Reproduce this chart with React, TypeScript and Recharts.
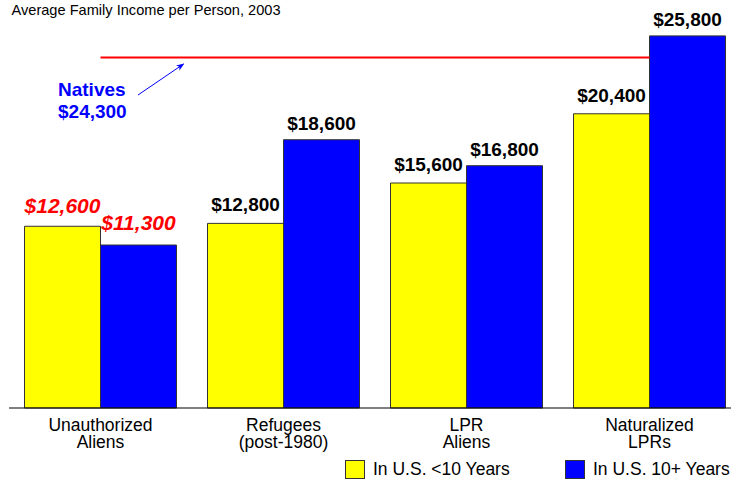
import React from "react";
import {
  BarChart,
  Bar,
  XAxis,
  YAxis,
  ReferenceLine,
  LabelList,
  Legend,
} from "recharts";

const categories = [
  "Unauthorized\nAliens",
  "Refugees\n(post-1980)",
  "LPR\nAliens",
  "Naturalized\nLPRs",
];
const under10Years = [12600, 12800, 15600, 20400];
const over10Years = [11300, 18600, 16800, 25800];
const nativesValue = 24300;
const seriesNames = ["In U.S. <10 Years", "In U.S. 10+ Years"];
const title = "Average Family Income per Person, 2003";

const YELLOW = "#FFFF00";
const BLUE = "#0000FF";
const RED = "#FF0000";
const FONT = "'Liberation Sans', Arial, sans-serif";

const data = categories.map((c, i) => ({
  category: c,
  under10: under10Years[i],
  over10: over10Years[i],
}));

const fmt = (v: number) =>
  "$" + String(v).replace(/\B(?=(\d{3})+(?!\d))/g, ",");

const CategoryTick = (props: any) => {
  const { x, y, payload } = props;
  const lines = String(payload.value).split("\n");
  return (
    <text
      x={x}
      y={y}
      textAnchor="middle"
      fontFamily={FONT}
      fontSize={17.5}
      fill="#000"
    >
      {lines.map((l, i) => (
        <tspan key={i} x={x} dy={i === 0 ? 14.5 : 17.5}>
          {l}
        </tspan>
      ))}
    </text>
  );
};

const makeValueLabel = (offsetRed: number, offsetBlack: number) => (props: any) => {
  const { x, y, width, value, index } = props;
  const special = index === 0;
  const cx = Number(x) + Number(width) / 2;
  return (
    <text
      x={cx}
      y={Number(y) - (special ? offsetRed : offsetBlack)}
      textAnchor="middle"
      fontFamily={FONT}
      fontWeight="bold"
      fontStyle={special ? "italic" : "normal"}
      fontSize={special ? 21 : 19}
      fill={special ? RED : "#000"}
    >
      {fmt(Number(value))}
    </text>
  );
};

const NativesLabel = (props: any) => {
  const vb = props.viewBox || {};
  const x0 = Number(vb.x);
  const y0 = Number(vb.y);
  const tx = x0 - 42.5;
  return (
    <g>
      <defs>
        <marker
          id="arrowHead"
          markerWidth="8"
          markerHeight="8"
          refX="7"
          refY="4"
          orient="auto"
          markerUnits="userSpaceOnUse"
        >
          <path d="M0,1 L8,4 L0,7 L2,4 Z" fill={BLUE} />
        </marker>
      </defs>
      <line
        x1={x0 + 37.5}
        y1={y0 + 37.5}
        x2={x0 + 83}
        y2={y0 + 6.5}
        stroke={BLUE}
        strokeWidth={1}
        markerEnd="url(#arrowHead)"
      />
      <text
        x={tx}
        y={y0 + 38.5}
        fontFamily={FONT}
        fontWeight="bold"
        fontSize={19}
        fill={BLUE}
      >
        Natives
      </text>
      <text
        x={tx}
        y={y0 + 60.5}
        fontFamily={FONT}
        fontWeight="bold"
        fontSize={19}
        fill={BLUE}
      >
        {fmt(nativesValue)}
      </text>
    </g>
  );
};

const LegendContent = () => {
  const items = [
    { name: seriesNames[0], color: YELLOW, left: 345 },
    { name: seriesNames[1], color: BLUE, left: 565 },
  ];
  return (
    <div style={{ position: "relative", width: 760, height: 30 }}>
      {items.map((it) => (
        <div
          key={it.name}
          style={{
            position: "absolute",
            left: it.left,
            top: 10,
            display: "flex",
            alignItems: "center",
            fontFamily: FONT,
            fontSize: 17.5,
            color: "#000",
            whiteSpace: "nowrap",
          }}
        >
          <span
            style={{
              display: "inline-block",
              width: 18,
              height: 17,
              background: it.color,
              border: "1px solid #333",
              marginRight: 8,
            }}
          />
          <span>{it.name}</span>
        </div>
      ))}
    </div>
  );
};

export default function App() {
  return (
    <div
      style={{
        position: "fixed",
        left: 0,
        top: 0,
        width: 731,
        height: 479,
        overflow: "hidden",
        background: "#fff",
      }}
    >
      <div
        style={{
          position: "absolute",
          left: 11.5,
          top: 2,
          fontFamily: FONT,
          fontSize: 14.6,
          color: "#000",
          whiteSpace: "nowrap",
          zIndex: 2,
        }}
      >
        {title}
      </div>
      <BarChart
        width={760}
        height={479}
        data={data}
        margin={{ top: 33, left: 9, right: 19, bottom: 0 }}
        barCategoryGap={15.5}
        barGap={0}
      >
        <YAxis hide domain={[0, 26000]} />
        <XAxis
          dataKey="category"
          height={41}
          tickLine={false}
          axisLine={{ stroke: "#000", strokeWidth: 1 }}
          tick={<CategoryTick />}
          interval={0}
        />
        <Legend
          verticalAlign="bottom"
          height={30}
          content={<LegendContent />}
          wrapperStyle={{ left: 0, width: 760 }}
        />
        <Bar
          dataKey="under10"
          name={seriesNames[0]}
          fill={YELLOW}
          stroke="#333"
          strokeWidth={1}
          isAnimationActive={false}
        >
          <LabelList dataKey="under10" content={makeValueLabel(13, 12)} />
        </Bar>
        <Bar
          dataKey="over10"
          name={seriesNames[1]}
          fill={BLUE}
          stroke="#333"
          strokeWidth={1}
          isAnimationActive={false}
        >
          <LabelList dataKey="over10" content={makeValueLabel(15, 10)} />
        </Bar>
        <ReferenceLine
          segment={[
            { x: categories[0], y: nativesValue },
            { x: categories[3], y: nativesValue },
          ]}
          stroke={RED}
          strokeWidth={2}
          ifOverflow="visible"
          label={<NativesLabel />}
        />
      </BarChart>
    </div>
  );
}
